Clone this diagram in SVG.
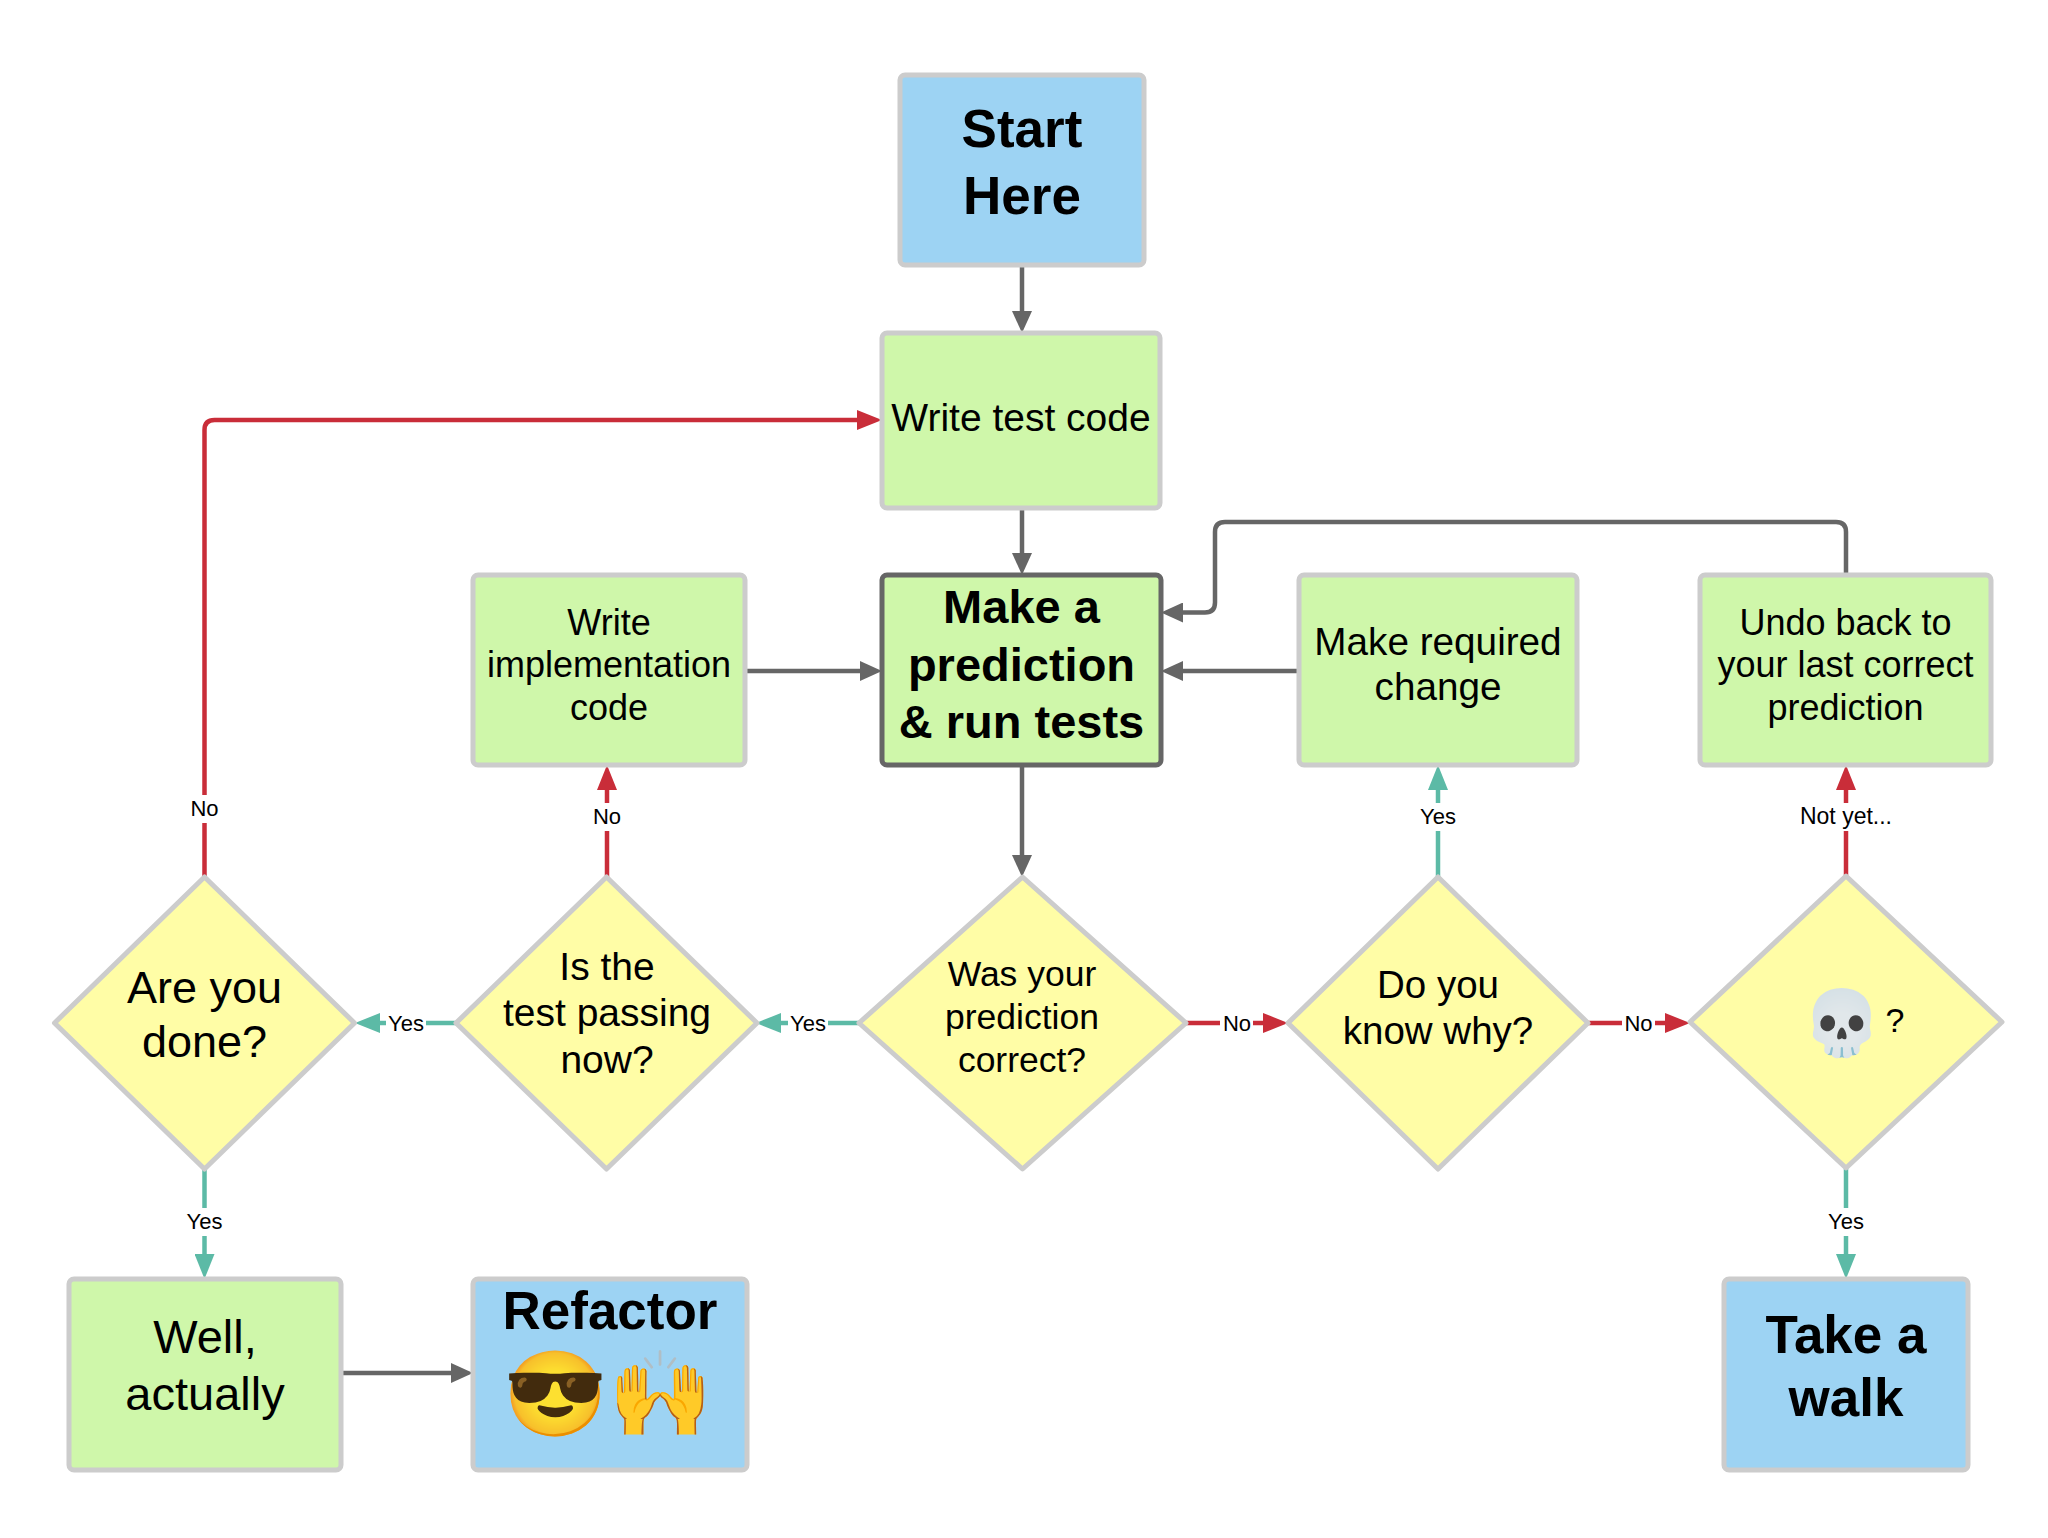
<svg xmlns="http://www.w3.org/2000/svg" width="2048" height="1538" viewBox="0 0 2048 1538">
<style>
.box{stroke:#cccccc;stroke-width:5}
.blue{fill:#9dd3f3}
.green{fill:#cff7aa}
.dia{fill:#fffda6;stroke:#cccccc;stroke-width:5;stroke-linejoin:round}
.t{font-family:"Liberation Sans",Arial,sans-serif;fill:#000;text-anchor:middle}
.b{font-weight:bold}
.lg{fill:none;stroke:#666666;stroke-width:4.5}
.lr{fill:none;stroke:#c92d39;stroke-width:4.5}
.lt{fill:none;stroke:#5cbaa6;stroke-width:4.5}
.lab{font-family:"Liberation Sans",Arial,sans-serif;font-size:22px;fill:#000;text-anchor:middle}
.emo{font-family:"Noto Color Emoji","Apple Color Emoji","Segoe UI Emoji","DejaVu Sans",sans-serif;text-anchor:middle}
</style>
<defs>
<marker id="ag" markerUnits="userSpaceOnUse" markerWidth="22" markerHeight="20" viewBox="0 0 22 20" refX="1" refY="10" orient="auto"><path d="M0 0 L22 10 L0 20 z" fill="#666666"/></marker>
<marker id="ar" markerUnits="userSpaceOnUse" markerWidth="25" markerHeight="20" viewBox="0 0 25 20" refX="1" refY="10" orient="auto"><path d="M0 0 L25 10 L0 20 z" fill="#c92d39"/></marker>
<marker id="at" markerUnits="userSpaceOnUse" markerWidth="25" markerHeight="20" viewBox="0 0 25 20" refX="1" refY="10" orient="auto"><path d="M0 0 L25 10 L0 20 z" fill="#5cbaa6"/></marker>
</defs>
<rect width="2048" height="1538" fill="#ffffff"/>

<g id="connectors">
<path class="lg" d="M1022 265 V312" marker-end="url(#ag)"/>
<path class="lg" d="M1022 508 V554" marker-end="url(#ag)"/>
<path class="lg" d="M745 671 H861" marker-end="url(#ag)"/>
<path class="lg" d="M1299 671 H1182" marker-end="url(#ag)"/>
<path class="lg" d="M1846 575 V532 Q1846 522 1836 522 H1225 Q1215 522 1215 532 V602.5 Q1215 612.5 1205 612.5 H1182" marker-end="url(#ag)"/>
<path class="lg" d="M1022 765 V856" marker-end="url(#ag)"/>
<path class="lg" d="M341 1373 H452" marker-end="url(#ag)"/>

<path class="lr" d="M204.5 877 V430 Q204.5 420 214.5 420 H858" marker-end="url(#ar)"/>
<path class="lr" d="M607 877 V789" marker-end="url(#ar)"/>
<path class="lr" d="M1186 1023 H1264" marker-end="url(#ar)"/>
<path class="lr" d="M1588 1023 H1666" marker-end="url(#ar)"/>
<path class="lr" d="M1846 876 V789" marker-end="url(#ar)"/>

<path class="lt" d="M859 1023 H780" marker-end="url(#at)"/>
<path class="lt" d="M456 1023 H379" marker-end="url(#at)"/>
<path class="lt" d="M1438 877 V789" marker-end="url(#at)"/>
<path class="lt" d="M204.5 1169 V1255" marker-end="url(#at)"/>
<path class="lt" d="M1846 1168 V1255" marker-end="url(#at)"/>

<g id="labels">
<rect x="188" y="795" width="33" height="28" fill="#fff"/>
<text class="lab" x="204.5" y="816">No</text>
<rect x="590" y="803" width="33" height="28" fill="#fff"/>
<text class="lab" x="607" y="824">No</text>
<rect x="1220" y="1010" width="33" height="26" fill="#fff"/>
<text class="lab" x="1237" y="1031">No</text>
<rect x="1622" y="1010" width="33" height="26" fill="#fff"/>
<text class="lab" x="1638.5" y="1031">No</text>
<rect x="1796" y="803" width="100" height="28" fill="#fff"/>
<text class="lab" x="1846" y="824" style="font-size:23px">Not yet...</text>
<rect x="788" y="1010" width="40" height="26" fill="#fff"/>
<text class="lab" x="808" y="1031">Yes</text>
<rect x="386" y="1010" width="40" height="26" fill="#fff"/>
<text class="lab" x="406" y="1031">Yes</text>
<rect x="1418" y="803" width="40" height="28" fill="#fff"/>
<text class="lab" x="1438" y="824">Yes</text>
<rect x="184.5" y="1208" width="40" height="28" fill="#fff"/>
<text class="lab" x="204.5" y="1229">Yes</text>
<rect x="1826" y="1208" width="40" height="28" fill="#fff"/>
<text class="lab" x="1846" y="1229">Yes</text>
</g>
</g>

<g id="start">
<rect class="box blue" x="900" y="75" width="244" height="190" rx="5"/>
<text class="t b" x="1022" y="147" font-size="53">Start</text>
<text class="t b" x="1022" y="214" font-size="53">Here</text>
</g>

<g id="write-test">
<rect class="box green" x="882" y="333" width="278" height="175" rx="5"/>
<text class="t" x="1021" y="431" font-size="39">Write test code</text>
</g>

<g id="make-prediction">
<rect class="green" x="882" y="575" width="279" height="190" rx="5" stroke="#666666" stroke-width="5"/>
<text class="t b" x="1021.5" y="623" font-size="47">Make a</text>
<text class="t b" x="1021.5" y="681" font-size="47">prediction</text>
<text class="t b" x="1021.5" y="738" font-size="47">&amp; run tests</text>
</g>

<g id="write-impl">
<rect class="box green" x="473" y="575" width="272" height="190" rx="5"/>
<text class="t" x="609" y="635" font-size="36">Write</text>
<text class="t" x="609" y="677" font-size="36">implementation</text>
<text class="t" x="609" y="719.5" font-size="36">code</text>
</g>

<g id="make-change">
<rect class="box green" x="1299" y="575" width="278" height="190" rx="5"/>
<text class="t" x="1438" y="655" font-size="38.7">Make required</text>
<text class="t" x="1438" y="700" font-size="38.7">change</text>
</g>

<g id="undo">
<rect class="box green" x="1700" y="575" width="291" height="190" rx="5"/>
<text class="t" x="1845.5" y="635" font-size="36">Undo back to</text>
<text class="t" x="1845.5" y="677" font-size="36">your last correct</text>
<text class="t" x="1845.5" y="719.5" font-size="36">prediction</text>
</g>

<g id="are-you-done">
<polygon class="dia" points="54.5,1023 204.5,877 354.5,1023 204.5,1169"/>
<text class="t" x="204.5" y="1003" font-size="45">Are you</text>
<text class="t" x="204.5" y="1056.5" font-size="45">done?</text>
</g>

<g id="test-passing">
<polygon class="dia" points="456,1023 606.5,877 757,1023 606.5,1169"/>
<text class="t" x="607" y="980" font-size="39">Is the</text>
<text class="t" x="607" y="1026" font-size="39">test passing</text>
<text class="t" x="607" y="1072.5" font-size="39">now?</text>
</g>

<g id="prediction-correct">
<polygon class="dia" points="859,1023 1022.5,877 1186,1023 1022.5,1169"/>
<text class="t" x="1022" y="986" font-size="35.5">Was your</text>
<text class="t" x="1022" y="1029" font-size="35.5">prediction</text>
<text class="t" x="1022" y="1072" font-size="35.5">correct?</text>
</g>

<g id="know-why">
<polygon class="dia" points="1288,1023 1438,877 1588,1023 1438,1169"/>
<text class="t" x="1438" y="998" font-size="38.5">Do you</text>
<text class="t" x="1438" y="1044" font-size="38.5">know why?</text>
</g>

<g id="skull">
<polygon class="dia" points="1690,1022 1846,876 2002,1022 1846,1168"/>
<text class="emo" x="1842" y="1045" font-size="64">💀</text>
<text class="t" x="1895" y="1032" font-size="34">?</text>
</g>

<g id="well-actually">
<rect class="box green" x="69" y="1279" width="272" height="191" rx="5"/>
<text class="t" x="205" y="1353" font-size="47">Well,</text>
<text class="t" x="205" y="1410" font-size="47">actually</text>
</g>

<g id="refactor">
<rect class="box blue" x="473" y="1279" width="274" height="191" rx="5"/>
<text class="t b" x="610" y="1329" font-size="53">Refactor</text>
<text class="emo" x="608" y="1423" font-size="84">😎🙌</text>
</g>

<g id="take-walk">
<rect class="box blue" x="1724" y="1279" width="244" height="191" rx="5"/>
<text class="t b" x="1846" y="1353" font-size="53">Take a</text>
<text class="t b" x="1846" y="1416" font-size="53">walk</text>
</g>
</svg>
